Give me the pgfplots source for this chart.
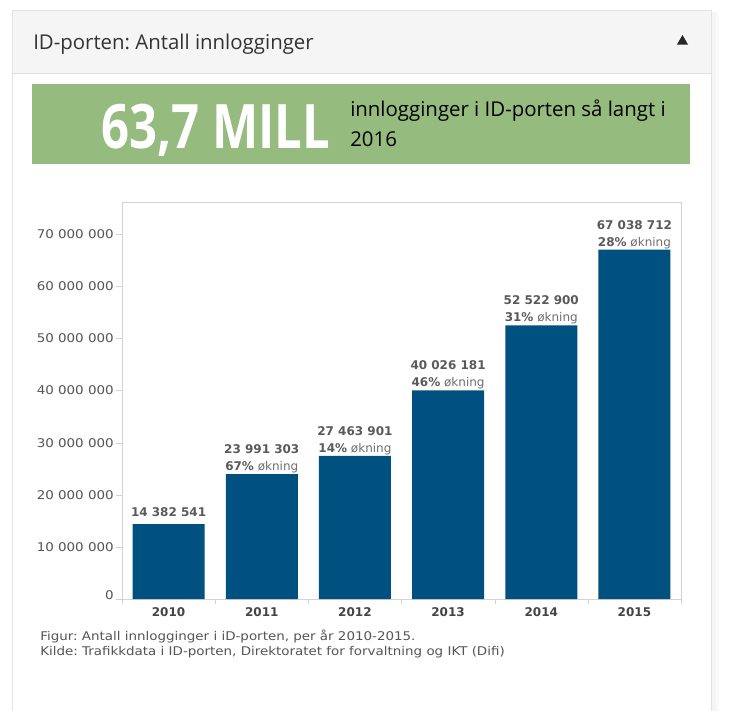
\documentclass[border=0pt]{standalone}
\usepackage{fontspec}
\usepackage{graphicx}
\usepackage{pgfplots}
\usepackage{pgfplotstable}
\pgfplotsset{compat=1.18}
\setmainfont{DejaVu Sans}
\newfontfamily\wide{DejaVu Sans}[FakeStretch=1.12]
\newfontfamily\opensans{Open Sans}

\definecolor{headbg}{HTML}{F5F5F5}
\definecolor{panelline}{HTML}{E3E3E3}
\definecolor{headline}{HTML}{DDDDDD}
\definecolor{titlec}{HTML}{333333}
\definecolor{bannerg}{HTML}{95BB7F}
\definecolor{barblue}{HTML}{00517F}
\definecolor{framec}{HTML}{D3D3D3}
\definecolor{ytickc}{HTML}{C5D3E0}
\definecolor{ylabc}{HTML}{555555}
\definecolor{xlabc}{HTML}{444444}
\definecolor{lblc}{HTML}{5A5A5A}
\definecolor{okc}{HTML}{6E6E6E}
\definecolor{capc}{HTML}{555555}

% logins per year, label text, growth in percent
\pgfplotstableread[col sep=semicolon]{
x;y;lab;pct
0;14382541;14 382 541;0
1;23991303;23 991 303;67
2;27463901;27 463 901;14
3;40026181;40 026 181;46
4;52522900;52 522 900;31
5;67038712;67 038 712;28
}\datatable

\pgfplotsset{
  barlabel/.style={draw=none, mark=none, forget plot,
    point meta=explicit symbolic,
    nodes near coords style={anchor=base, inner sep=0pt,
        font=\fontsize{9pt}{11pt}\selectfont, text=lblc}},
}

\begin{document}
\frenchspacing
\begin{tikzpicture}
\begin{scope}[x=0.75pt,y=-0.75pt]
  \useasboundingbox (0,0) rectangle (729,711);
  \fill[white] (0,0) rectangle (729,711);
  % panel with a faint shadow on the right
  \fill[black!4] (711,12) rectangle (716,711);
  \fill[black!2] (716,12) rectangle (719,711);
  \fill[white] (12,10) rectangle (711,711);
  \fill[headbg] (12,10) rectangle (711,73);
  \draw[panelline] (12,711) -- (12,10.5) -- (711,10.5) -- (711,711);
  \draw[headline] (12,73) -- (711,73);
  \node[anchor=base west, inner sep=0, text=titlec,
        font=\opensans\fontsize{15.3pt}{18pt}\selectfont] at (33,49.5) {ID-porten: Antall innlogginger};
  \fill[black!85] (677,44.5) -- (688,44.5) -- (682.5,35) -- cycle;
  % green banner
  \fill[bannerg] (32,84) rectangle (690,163.5);
  \node[anchor=base west, inner sep=0, text=white,
        font=\opensans\bfseries\fontsize{46pt}{50pt}\selectfont] at (101,148)
        {\scalebox{0.8}[1]{63,7 MILL}};
  % base of a multi-line node is the baseline of its last line
  \node[anchor=base west, inner sep=0, text=black, align=left,
        font=\opensans\fontsize{15.3pt}{22.5pt}\selectfont] at (350,146.5)
        {innlogginger i ID-porten så langt i\\2016};
  % caption
  \node[anchor=base west, inner sep=0, text=capc, align=left,
        font=\wide\fontsize{9pt}{10.9pt}\selectfont] at (40,655.5)
        {Figur: Antall innlogginger i iD-porten, per år 2010-2015.\\
         Kilde: Trafikkdata i ID-porten, Direktoratet for forvaltning og IKT (Difi)};
\end{scope}

\begin{axis}[
    at={(91.5pt,-449.25pt)}, anchor=south west,
    width=419.25pt, height=297.75pt, scale only axis,
    xmin=-0.5, xmax=5.5, ymin=0, ymax=76.2e6,
    enlargelimits=false, clip=false,
    axis line style={draw=framec},
    xtick={0,1,2,3,4,5},
    xticklabels={2010,2011,2012,2013,2014,2015},
    minor xtick={-0.5,0.5,1.5,2.5,3.5,4.5,5.5},
    ytick={0,1e7,2e7,3e7,4e7,5e7,6e7,7e7},
    yticklabels={\raisebox{5.25pt}{0},10 000 000,20 000 000,30 000 000,40 000 000,50 000 000,60 000 000,70 000 000},
    scaled y ticks=false,
    tick align=outside, xtick pos=bottom, ytick pos=left,
    major tick length=4.5pt, minor tick length=4pt,
    major x tick style={draw=none},
    minor x tick style={draw=framec},
    y tick style={draw=ytickc},
    xticklabel style={font=\fontsize{9pt}{11pt}\selectfont\bfseries, text=xlabc, inner ysep=1.5pt},
    yticklabel style={font=\wide\fontsize{9pt}{11pt}\selectfont, text=ylabc, inner xsep=1.5pt},
]
\addplot[ybar, bar width=54pt, fill=barblue, draw=none]
    table[x=x, y=y] {\datatable};
% value above the 2010 bar
\addplot[barlabel, restrict x to domain=-0.5:0.5,
    nodes near coords={\textbf{\pgfplotspointmeta}},
    every node near coord/.append style={yshift=5.7pt}]
    table[x=x, y=y, meta=lab] {\datatable};
% value lines for 2011-2015
\addplot[barlabel, restrict x to domain=0.5:5.5,
    nodes near coords={\textbf{\pgfplotspointmeta}},
    every node near coord/.append style={yshift=15.5pt}]
    table[x=x, y=y, meta=lab] {\datatable};
% growth lines for 2011-2015
\addplot[barlabel, restrict x to domain=0.5:5.5,
    nodes near coords={\textbf{\pgfplotspointmeta\%} {\color{okc}økning}},
    every node near coord/.append style={yshift=2.7pt}]
    table[x=x, y=y, meta=pct] {\datatable};
\end{axis}
\end{tikzpicture}
\end{document}
